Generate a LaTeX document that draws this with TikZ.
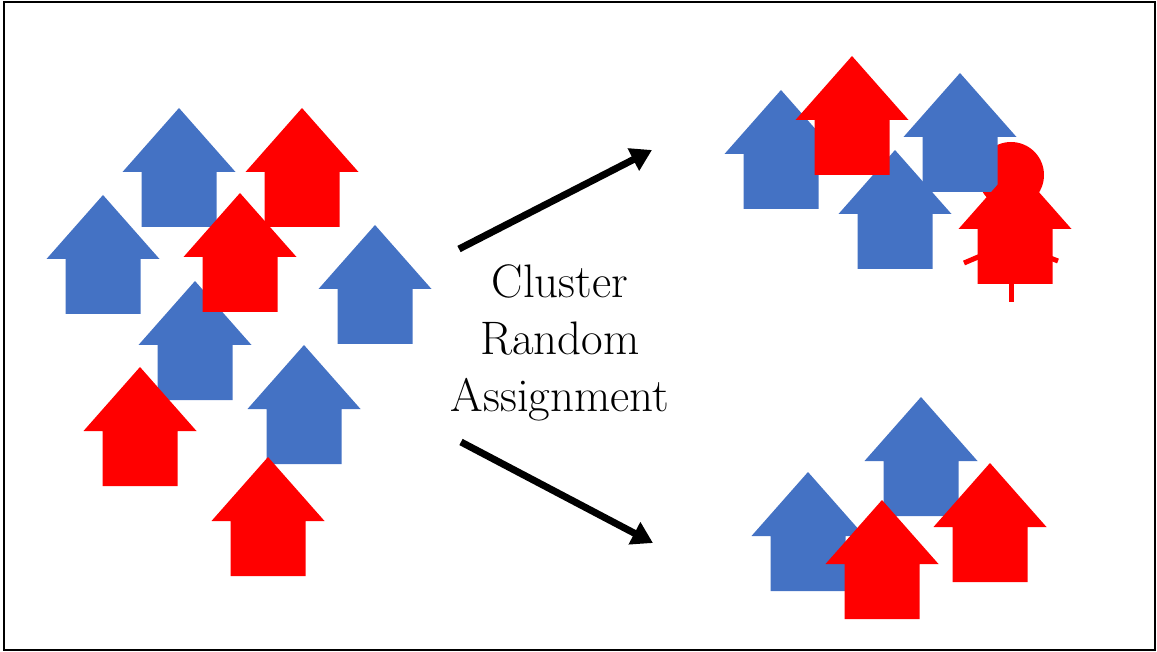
\documentclass[tikz,border=0pt]{standalone}
\usetikzlibrary{arrows.meta}
\definecolor{houseblue}{HTML}{4472C4}
\definecolor{housered}{HTML}{FF0000}

\begin{document}
\begin{tikzpicture}[
    x=1pt, y=-1pt,
    house/.pic={\path[pic actions] (0,0) -- (56.5,64) -- (37.5,64) -- (37.5,119) -- (-37.5,119) -- (-37.5,64) -- (-56.5,64) -- cycle;},
    blue house/.style={fill=houseblue},
    red house/.style={fill=housered},
    edge/.style={-{Triangle[length=21pt, width=24pt]}, line width=7pt},
    limb/.style={housered, line width=5pt}
]
    \useasboundingbox (0,0) rectangle (1157,652);
    \draw[line width=2pt] (4,2) rectangle (1155,650);

    % cluster on the left
    \foreach \x/\y in {179/108, 103/195, 375/225, 195/281, 304/345}
        \pic[blue house] at (\x,\y) {house};
    \foreach \x/\y in {302/108, 240/193, 140/367, 268/457}
        \pic[red house] at (\x,\y) {house};

    % upper group
    \fill[housered] (1011,175) circle (33);
    \foreach \x/\y in {781/90, 960/73, 895/150}
        \pic[blue house] at (\x,\y) {house};
    \pic[red house] at (852,56) {house};
    \coordinate (armL) at (964,263);
    \coordinate (armR) at (1058,261);
    \coordinate (armC) at (1011,243);
    \coordinate (legT) at (1011,280);
    \coordinate (legB) at (1011,302);
    \draw[limb] (armL) -- (armC) -- (armR);
    \draw[limb] (legT) -- (legB);
    \pic[red house] at (1015,165) {house};

    % lower group
    \foreach \x/\y in {921/397, 808/472}
        \pic[blue house] at (\x,\y) {house};
    \foreach \x/\y in {990/463, 882/500}
        \pic[red house] at (\x,\y) {house};

    \node[align=center, font=\fontsize{47}{57}\selectfont, inner sep=0pt] (label) at (560,343) {Cluster\\Random\\Assignment};

    \coordinate (upS) at (459,249);
    \coordinate (upE) at (652,150);
    \coordinate (downS) at (461,442);
    \coordinate (downE) at (653,543);
    \draw[edge] (upS) -- (upE);
    \draw[edge] (downS) -- (downE);
\end{tikzpicture}
\end{document}
